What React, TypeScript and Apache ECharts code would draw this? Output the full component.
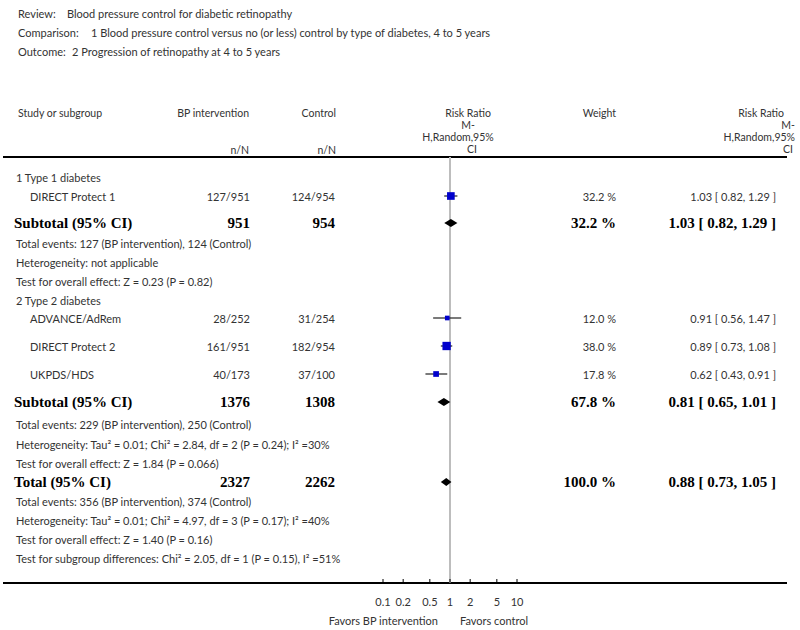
import React, { useEffect, useRef } from "react";
import * as echarts from "echarts";

// ---------------- data ----------------
const reviewTitle = "Blood pressure control for diabetic retinopathy";
const comparisonTitle =
  "1 Blood pressure control versus no (or less) control by type of diabetes, 4 to 5 years";
const outcomeTitle = "2 Progression of retinopathy at 4 to 5 years";

const groupNames = ["1 Type 1 diabetes", "2 Type 2 diabetes"];

const studyNames = ["DIRECT Protect 1", "ADVANCE/AdRem", "DIRECT Protect 2", "UKPDS/HDS"];
const bpEvents = [127, 28, 161, 40];
const bpTotal = [951, 252, 951, 173];
const ctrlEvents = [124, 31, 182, 37];
const ctrlTotal = [954, 254, 954, 100];
const studyWeight = [32.2, 12.0, 38.0, 17.8];
const studyRR = [1.03, 0.91, 0.89, 0.62];
const studyLow = [0.82, 0.56, 0.73, 0.43];
const studyHigh = [1.29, 1.47, 1.08, 0.91];

const pooledNames = ["Subtotal (95% CI)", "Subtotal (95% CI)", "Total (95% CI)"];
const pooledBpN = [951, 1376, 2327];
const pooledCtrlN = [954, 1308, 2262];
const pooledWeight = [32.2, 67.8, 100.0];
const pooledRR = [1.03, 0.81, 0.88];
const pooledLow = [0.82, 0.65, 0.73];
const pooledHigh = [1.29, 1.01, 1.05];

const groupNotes = [
  [
    "Total events: 127 (BP intervention), 124 (Control)",
    "Heterogeneity: not applicable",
    "Test for overall effect: Z = 0.23 (P = 0.82)",
  ],
  [
    "Total events: 229 (BP intervention), 250 (Control)",
    "Heterogeneity: Tau² = 0.01; Chi² = 2.84, df = 2 (P = 0.24); I² =30%",
    "Test for overall effect: Z = 1.84 (P = 0.066)",
  ],
];
const totalNotes = [
  "Total events: 356 (BP intervention), 374 (Control)",
  "Heterogeneity: Tau² = 0.01; Chi² = 4.97, df = 3 (P = 0.17); I² =40%",
  "Test for overall effect: Z = 1.40 (P = 0.16)",
  "Test for subgroup differences: Chi² = 2.05, df = 1 (P = 0.15), I² =51%",
];

const tickValues = [0.1, 0.2, 0.5, 1, 2, 5, 10];
const tickLabels = ["0.1", "0.2", "0.5", "1", "2", "5", "10"];

// ---------------- layout ----------------
const titleY = [13, 32, 51];
const headerY = [113, 125, 137, 149];
const groupRowY = [177, 300];
const studyRowY = [196, 318, 346, 374];
const pooledRowY = [223, 402, 482];
const groupNoteY = [
  [243, 262, 281],
  [424, 444, 463],
];
const totalNoteY = [501, 520, 539, 558];
const HEADER_LINE_Y = 157;
const AXIS_Y = 583;

const REG = "11px Lato";
const HEAD = "10.5px Lato";
const BOLD = "bold 15px 'Liberation Serif'";
const REG_COLOR = "#333";

function txt(text: string, x: number, y: number, font = REG, align = "left", fill = REG_COLOR) {
  return {
    type: "text",
    x,
    y,
    silent: true,
    style: { text, font, fill, align, verticalAlign: "middle" },
  };
}

const fmtRR = (r: number, l: number, h: number) =>
  `${r.toFixed(2)} [ ${l.toFixed(2)}, ${h.toFixed(2)} ]`;

function buildGraphics() {
  const g: any[] = [];
  // titles
  g.push(txt("Review:", 18, titleY[0]));
  g.push(txt(reviewTitle, 67, titleY[0]));
  g.push(txt("Comparison:", 18, titleY[1]));
  g.push(txt(comparisonTitle, 91, titleY[1]));
  g.push(txt("Outcome:", 18, titleY[2]));
  g.push(txt(outcomeTitle, 72, titleY[2]));
  // header
  g.push(txt("Study or subgroup", 18, headerY[0], HEAD));
  g.push(txt("BP intervention", 249, headerY[0], HEAD, "right"));
  g.push(txt("Control", 336, headerY[0], HEAD, "right"));
  g.push(txt("n/N", 249, 150, HEAD, "right"));
  g.push(txt("n/N", 336, 150, HEAD, "right"));
  g.push(txt("Risk Ratio", 468, headerY[0], HEAD, "center"));
  g.push(txt("M-", 468, headerY[1], HEAD, "center"));
  g.push(txt("H,Random,95%", 458, headerY[2], HEAD, "center"));
  g.push(txt("CI", 472, headerY[3], HEAD, "center"));
  g.push(txt("Weight", 616, headerY[0], HEAD, "right"));
  g.push(txt("Risk Ratio", 784, headerY[0], HEAD, "right"));
  g.push(txt("M-", 795, headerY[1], HEAD, "right"));
  g.push(txt("H,Random,95%", 795, headerY[2], HEAD, "right"));
  g.push(txt("CI", 793, headerY[3], HEAD, "right"));
  // lines
  g.push({
    type: "line",
    silent: true,
    shape: { x1: 3, y1: HEADER_LINE_Y, x2: 787, y2: HEADER_LINE_Y },
    style: { stroke: "#000", lineWidth: 2 },
  });
  g.push({
    type: "line",
    silent: true,
    shape: { x1: 3, y1: AXIS_Y, x2: 787, y2: AXIS_Y },
    style: { stroke: "#000", lineWidth: 2 },
  });
  // group headings
  groupNames.forEach((n, i) => g.push(txt(n, 16, groupRowY[i])));
  // studies
  studyNames.forEach((n, i) => {
    const y = studyRowY[i];
    g.push(txt(n, 30, y));
    g.push(txt(`${bpEvents[i]}/${bpTotal[i]}`, 250, y, REG, "right"));
    g.push(txt(`${ctrlEvents[i]}/${ctrlTotal[i]}`, 335, y, REG, "right"));
    g.push(txt(`${studyWeight[i].toFixed(1)} %`, 616, y, REG, "right"));
    g.push(txt(fmtRR(studyRR[i], studyLow[i], studyHigh[i]), 776, y, REG, "right"));
  });
  // pooled
  pooledNames.forEach((n, i) => {
    const y = pooledRowY[i];
    g.push(txt(n, 14, y, BOLD, "left", "#000"));
    g.push(txt(String(pooledBpN[i]), 250, y, BOLD, "right", "#000"));
    g.push(txt(String(pooledCtrlN[i]), 335, y, BOLD, "right", "#000"));
    g.push(txt(`${pooledWeight[i].toFixed(1)} %`, 616, y, BOLD, "right", "#000"));
    g.push(txt(fmtRR(pooledRR[i], pooledLow[i], pooledHigh[i]), 776, y, BOLD, "right", "#000"));
  });
  // notes
  groupNotes.forEach((notes, gi) =>
    notes.forEach((n, j) => g.push(txt(n, 16, groupNoteY[gi][j])))
  );
  totalNotes.forEach((n, j) => g.push(txt(n, 16, totalNoteY[j])));
  // favours
  g.push(txt("Favors BP intervention", 438, 620, REG, "right"));
  g.push(txt("Favors control", 460, 620, REG, "left"));
  return g;
}

export default function App() {
  const ref = useRef<HTMLDivElement>(null);
  useEffect(() => {
    if (!ref.current) return;
    const chart = echarts.init(ref.current, undefined, { renderer: "svg" });
    const lg = Math.log10;

    const option: any = {
      animation: false,
      grid: { left: 383, width: 134, top: 0, height: 630 },
      xAxis: { type: "value", min: -1, max: 1, show: false },
      yAxis: { type: "value", min: 0, max: 630, inverse: true, show: false },
      series: [
        {
          type: "custom",
          name: "reference",
          silent: true,
          data: [[0, HEADER_LINE_Y, AXIS_Y]],
          renderItem: (_p: any, api: any) => {
            const a = api.coord([api.value(0), api.value(1)]);
            const b = api.coord([api.value(0), api.value(2)]);
            return {
              type: "line",
              shape: { x1: a[0], y1: a[1], x2: b[0], y2: b[1] },
              style: { stroke: "#bdbdbd", lineWidth: 2 },
            };
          },
        },
        {
          type: "custom",
          name: "ticks",
          silent: true,
          data: tickValues.map((t) => [lg(t), AXIS_Y]),
          renderItem: (p: any, api: any) => {
            const c = api.coord([api.value(0), api.value(1)]);
            return {
              type: "group",
              children: [
                {
                  type: "line",
                  shape: { x1: c[0], y1: c[1] - 4, x2: c[0], y2: c[1] },
                  style: { stroke: "#000", lineWidth: 1 },
                },
                {
                  type: "text",
                  x: c[0],
                  y: c[1] + 18,
                  style: {
                    text: tickLabels[p.dataIndex],
                    font: REG,
                    fill: REG_COLOR,
                    align: "center",
                    verticalAlign: "middle",
                  },
                },
              ],
            };
          },
        },
        {
          type: "custom",
          name: "studies",
          silent: true,
          data: studyRR.map((r, i) => [lg(r), lg(studyLow[i]), lg(studyHigh[i]), studyRowY[i], studyWeight[i]]),
          renderItem: (_p: any, api: any) => {
            const y = api.value(3);
            const c = api.coord([api.value(0), y]);
            const lo = api.coord([api.value(1), y]);
            const hi = api.coord([api.value(2), y]);
            const s = Math.sqrt(api.value(4)) * 1.35;
            return {
              type: "group",
              children: [
                {
                  type: "line",
                  shape: { x1: lo[0], y1: c[1], x2: hi[0], y2: c[1] },
                  style: { stroke: "#222", lineWidth: 1.2 },
                },
                {
                  type: "rect",
                  shape: { x: c[0] - s / 2, y: c[1] - s / 2, width: s, height: s },
                  style: { fill: "#0000cc" },
                },
              ],
            };
          },
        },
        {
          type: "custom",
          name: "pooled",
          silent: true,
          data: pooledRR.map((r, i) => [lg(r), lg(pooledLow[i]), lg(pooledHigh[i]), pooledRowY[i]]),
          renderItem: (_p: any, api: any) => {
            const y = api.value(3);
            const c = api.coord([api.value(0), y]);
            const lo = api.coord([api.value(1), y]);
            const hi = api.coord([api.value(2), y]);
            const h = 4;
            return {
              type: "polygon",
              shape: {
                points: [
                  [lo[0], c[1]],
                  [c[0], c[1] - h],
                  [hi[0], c[1]],
                  [c[0], c[1] + h],
                ],
              },
              style: { fill: "#000" },
            };
          },
        },
      ],
      graphic: buildGraphics(),
    };
    chart.setOption(option);
    return () => chart.dispose();
  }, []);

  return (
    <div
      ref={ref}
      style={{ position: "fixed", left: 0, top: 0, width: 800, height: 630, background: "#fff" }}
    />
  );
}
